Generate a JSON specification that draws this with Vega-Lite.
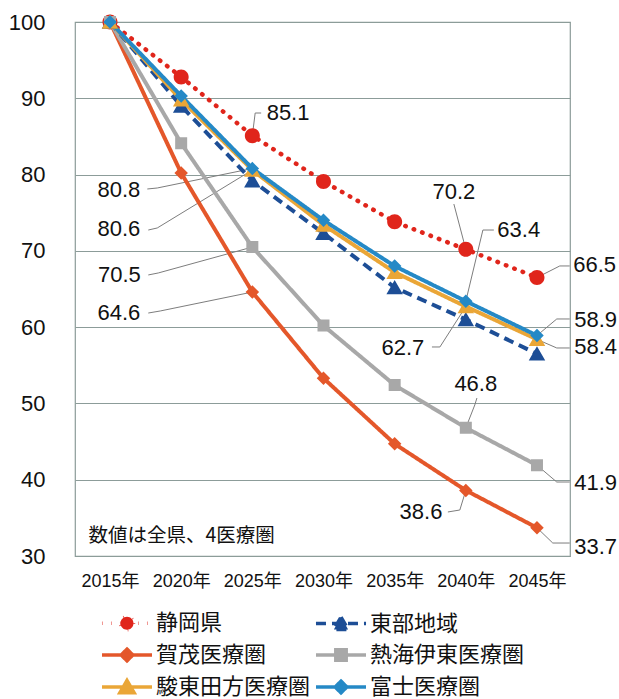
{
  "$schema": "https://vega.github.io/schema/vega-lite/v6.json",
  "width": 495,
  "height": 534,
  "autosize": {"type": "none"},
  "padding": {"left": 75, "top": 22, "right": 49, "bottom": 143},
  "background": "white",
  "config": {
    "view": {"stroke": "#8c9c99", "strokeWidth": 1.2},
    "axisX": {"domain": false, "ticks": false, "grid": false, "title": null, "labelFont": "Liberation Sans, Noto Sans CJK JP", "labelFontSize": 18, "labelColor": "#111111", "labelPadding": 16, "labelFlush": false, "labelOverlap": false},
    "axisY": {"domain": false, "ticks": false, "grid": true, "gridColor": "#8c9c99", "gridWidth": 1, "title": null, "labelFont": "Liberation Sans", "labelFontSize": 22, "labelColor": "#111111", "labelPadding": 30, "labelOverlap": false},
    "legend": {"title": null, "orient": "none", "legendX": 27, "legendY": 590, "columns": 2, "symbolSize": 169, "symbolStrokeWidth": 3.5, "symbolOffset": 14, "labelOffset": 18, "labelFont": "Noto Sans CJK JP", "labelFontSize": 22, "labelColor": "#111111", "labelLimit": 300, "rowPadding": 5, "columnPadding": -3, "padding": 0, "labelBaseline": "middle"}
  },
  "datasets": {
    "series": [
      {"s": "静岡県", "yr": 2015, "v": 100}, {"s": "静岡県", "yr": 2020, "v": 92.8}, {"s": "静岡県", "yr": 2025, "v": 85.1}, {"s": "静岡県", "yr": 2030, "v": 79.1}, {"s": "静岡県", "yr": 2035, "v": 73.8}, {"s": "静岡県", "yr": 2040, "v": 70.2}, {"s": "静岡県", "yr": 2045, "v": 66.5},
      {"s": "賀茂医療圏", "yr": 2015, "v": 100}, {"s": "賀茂医療圏", "yr": 2020, "v": 80.2}, {"s": "賀茂医療圏", "yr": 2025, "v": 64.6}, {"s": "賀茂医療圏", "yr": 2030, "v": 53.3}, {"s": "賀茂医療圏", "yr": 2035, "v": 44.7}, {"s": "賀茂医療圏", "yr": 2040, "v": 38.6}, {"s": "賀茂医療圏", "yr": 2045, "v": 33.7},
      {"s": "熱海伊東医療圏", "yr": 2015, "v": 100}, {"s": "熱海伊東医療圏", "yr": 2020, "v": 84.1}, {"s": "熱海伊東医療圏", "yr": 2025, "v": 70.5}, {"s": "熱海伊東医療圏", "yr": 2030, "v": 60.2}, {"s": "熱海伊東医療圏", "yr": 2035, "v": 52.4}, {"s": "熱海伊東医療圏", "yr": 2040, "v": 46.8}, {"s": "熱海伊東医療圏", "yr": 2045, "v": 41.9},
      {"s": "東部地域", "yr": 2015, "v": 100}, {"s": "東部地域", "yr": 2020, "v": 89.0}, {"s": "東部地域", "yr": 2025, "v": 79.2}, {"s": "東部地域", "yr": 2030, "v": 72.3}, {"s": "東部地域", "yr": 2035, "v": 65.2}, {"s": "東部地域", "yr": 2040, "v": 61.0}, {"s": "東部地域", "yr": 2045, "v": 56.5},
      {"s": "駿東田方医療圏", "yr": 2015, "v": 100}, {"s": "駿東田方医療圏", "yr": 2020, "v": 89.8}, {"s": "駿東田方医療圏", "yr": 2025, "v": 80.6}, {"s": "駿東田方医療圏", "yr": 2030, "v": 73.4}, {"s": "駿東田方医療圏", "yr": 2035, "v": 67.2}, {"s": "駿東田方医療圏", "yr": 2040, "v": 62.7}, {"s": "駿東田方医療圏", "yr": 2045, "v": 58.4},
      {"s": "富士医療圏", "yr": 2015, "v": 100}, {"s": "富士医療圏", "yr": 2020, "v": 90.3}, {"s": "富士医療圏", "yr": 2025, "v": 80.8}, {"s": "富士医療圏", "yr": 2030, "v": 74.0}, {"s": "富士医療圏", "yr": 2035, "v": 68.0}, {"s": "富士医療圏", "yr": 2040, "v": 63.4}, {"s": "富士医療圏", "yr": 2045, "v": 58.9}
    ],
    "labels": [
      {"t": "85.1", "x": 2027.51, "y": 88.07},
      {"t": "80.8", "x": 2015.62, "y": 77.98},
      {"t": "80.6", "x": 2015.62, "y": 72.87},
      {"t": "70.5", "x": 2015.66, "y": 66.84},
      {"t": "64.6", "x": 2015.62, "y": 61.85},
      {"t": "70.2", "x": 2039.16, "y": 77.72},
      {"t": "63.4", "x": 2043.72, "y": 72.73},
      {"t": "66.5", "x": 2049.05, "y": 68.15},
      {"t": "58.9", "x": 2049.12, "y": 60.94},
      {"t": "58.4", "x": 2049.12, "y": 57.40},
      {"t": "62.7", "x": 2035.58, "y": 57.27},
      {"t": "46.8", "x": 2040.70, "y": 52.55},
      {"t": "41.9", "x": 2049.12, "y": 39.57},
      {"t": "38.6", "x": 2036.85, "y": 35.77},
      {"t": "33.7", "x": 2049.12, "y": 31.18}
    ],
    "leaders": [
      {"id": "a", "o": 1, "x": 2025, "y": 85.1}, {"id": "a", "o": 2, "x": 2025.2, "y": 88.07}, {"id": "a", "o": 3, "x": 2025.62, "y": 88.07},
      {"id": "b", "o": 1, "x": 2025, "y": 80.8}, {"id": "b", "o": 2, "x": 2018.32, "y": 78.24}, {"id": "b", "o": 3, "x": 2017.62, "y": 78.11},
      {"id": "c", "o": 1, "x": 2025, "y": 80.6}, {"id": "c", "o": 2, "x": 2018.32, "y": 73.0}, {"id": "c", "o": 3, "x": 2017.69, "y": 72.73},
      {"id": "d", "o": 1, "x": 2025, "y": 70.5}, {"id": "d", "o": 2, "x": 2018.39, "y": 67.1}, {"id": "d", "o": 3, "x": 2017.69, "y": 66.84},
      {"id": "e", "o": 1, "x": 2025, "y": 64.6}, {"id": "e", "o": 2, "x": 2018.53, "y": 62.12}, {"id": "e", "o": 3, "x": 2017.69, "y": 61.85},
      {"id": "f", "o": 1, "x": 2040, "y": 70.2}, {"id": "f", "o": 2, "x": 2039.16, "y": 76.14},
      {"id": "g", "o": 1, "x": 2040, "y": 63.4}, {"id": "g", "o": 2, "x": 2041.2, "y": 72.73}, {"id": "g", "o": 3, "x": 2041.97, "y": 72.73},
      {"id": "h", "o": 1, "x": 2045, "y": 66.5}, {"id": "h", "o": 2, "x": 2046.6, "y": 68.02}, {"id": "h", "o": 3, "x": 2047.3, "y": 68.02},
      {"id": "i", "o": 1, "x": 2045, "y": 58.9}, {"id": "i", "o": 2, "x": 2046.39, "y": 61.07}, {"id": "i", "o": 3, "x": 2047.3, "y": 61.07},
      {"id": "j", "o": 1, "x": 2045, "y": 58.4}, {"id": "j", "o": 2, "x": 2046.39, "y": 57.27}, {"id": "j", "o": 3, "x": 2047.3, "y": 57.27},
      {"id": "k", "o": 1, "x": 2040, "y": 62.7}, {"id": "k", "o": 2, "x": 2038.18, "y": 57.4}, {"id": "k", "o": 3, "x": 2037.62, "y": 57.4},
      {"id": "l", "o": 1, "x": 2040, "y": 46.8}, {"id": "l", "o": 2, "x": 2040.63, "y": 49.8}, {"id": "l", "o": 3, "x": 2040.78, "y": 50.71},
      {"id": "m", "o": 1, "x": 2045, "y": 41.9}, {"id": "m", "o": 2, "x": 2046.39, "y": 39.7}, {"id": "m", "o": 3, "x": 2047.3, "y": 39.7},
      {"id": "n", "o": 1, "x": 2040, "y": 38.6}, {"id": "n", "o": 2, "x": 2039.58, "y": 36.03}, {"id": "n", "o": 3, "x": 2038.74, "y": 35.77},
      {"id": "o", "o": 1, "x": 2045, "y": 33.7}, {"id": "o", "o": 2, "x": 2046.11, "y": 31.7}, {"id": "o", "o": 3, "x": 2047.3, "y": 31.7}
    ]
  },
  "layer": [
    {
      "data": {"name": "leaders"},
      "mark": {"type": "line", "color": "#7d7d7d", "strokeWidth": 1},
      "encoding": {
        "x": {"field": "x", "type": "quantitative", "scale": {"domain": [2012.54, 2047.32], "nice": false, "zero": false}, "axis": {"values": [2015, 2020, 2025, 2030, 2035, 2040, 2045], "labelExpr": "datum.value + '年'"}},
        "y": {"field": "y", "type": "quantitative", "scale": {"domain": [30, 100], "nice": false, "zero": false}, "axis": {"values": [30, 40, 50, 60, 70, 80, 90, 100]}},
        "detail": {"field": "id"},
        "order": {"field": "o"}
      }
    },
    {
      "data": {"name": "series"},
      "transform": [{"filter": "datum.s === '静岡県'"}],
      "mark": {"type": "line", "strokeWidth": 4.5, "strokeCap": "round"},
      "encoding": {
        "x": {"field": "yr", "type": "quantitative"},
        "y": {"field": "v", "type": "quantitative"},
        "stroke": {"field": "s", "type": "nominal", "scale": {"domain": ["静岡県", "賀茂医療圏", "駿東田方医療圏", "東部地域", "熱海伊東医療圏", "富士医療圏"], "range": ["#e0251b", "#e4572a", "#eaa637", "#1d4e96", "#a8a8a8", "#2589c6"]}},
        "strokeDash": {"field": "s", "type": "nominal", "scale": {"domain": ["静岡県", "賀茂医療圏", "駿東田方医療圏", "東部地域", "熱海伊東医療圏", "富士医療圏"], "range": [[0.5, 8.5], [1, 0], [1, 0], [10, 6], [1, 0], [1, 0]]}}
      }
    },
    {
      "data": {"name": "series"},
      "transform": [{"filter": "datum.s !== '静岡県'"}],
      "mark": {"type": "line", "strokeWidth": 4, "strokeJoin": "round"},
      "encoding": {
        "x": {"field": "yr", "type": "quantitative"},
        "y": {"field": "v", "type": "quantitative"},
        "stroke": {"field": "s", "type": "nominal"},
        "strokeDash": {"field": "s", "type": "nominal"}
      }
    },
    {
      "data": {"name": "series"},
      "mark": {"type": "point", "opacity": 1, "size": 225, "strokeOpacity": 0},
      "encoding": {
        "x": {"field": "yr", "type": "quantitative"},
        "y": {"field": "v", "type": "quantitative"},
        "fill": {"field": "s", "type": "nominal", "scale": {"domain": ["静岡県", "賀茂医療圏", "駿東田方医療圏", "東部地域", "熱海伊東医療圏", "富士医療圏"], "range": ["#e0251b", "#e4572a", "#eaa637", "#1d4e96", "#a8a8a8", "#2589c6"]}},
        "stroke": {"field": "s", "type": "nominal"},
        "strokeDash": {"field": "s", "type": "nominal"},
        "shape": {
          "field": "s", "type": "nominal",
          "scale": {"domain": ["静岡県", "賀茂医療圏", "駿東田方医療圏", "東部地域", "熱海伊東医療圏", "富士医療圏"], "range": [
            "M1,0A1,1,0,1,1,-1,0A1,1,0,1,1,1,0ZM-3.85,0H3.85",
            "M0,-0.9L0.9,0L0,0.9L-0.9,0ZM-3.85,0H3.85",
            "M0,-1L1.1,0.9L-1.1,0.9ZM-3.85,0H3.85",
            "M0,-1L1.1,0.9L-1.1,0.9ZM-3.85,0H3.85",
            "M-0.8,-0.8H0.8V0.8H-0.8ZM-3.85,0H3.85",
            "M0,-0.9L0.9,0L0,0.9L-0.9,0ZM-3.85,0H3.85"
          ]},
          "legend": {"encode": {"symbols": {"strokeCap": {"value": "round"}, "strokeWidth": {"value": 3.5}, "strokeOpacity": {"value": 1}}}}
        }
      }
    },
    {
      "data": {"name": "labels"},
      "mark": {"type": "text", "font": "Liberation Sans", "fontSize": 22, "color": "#111111", "align": "center", "baseline": "middle"},
      "encoding": {
        "x": {"field": "x", "type": "quantitative"},
        "y": {"field": "y", "type": "quantitative"},
        "text": {"field": "t"}
      }
    },
    {
      "data": {"values": [{"note": "数値は全県、4医療圏"}]},
      "mark": {"type": "text", "font": "Noto Sans CJK JP", "fontSize": 19.5, "color": "#111111", "align": "left", "baseline": "middle"},
      "encoding": {
        "x": {"datum": 2013.48, "type": "quantitative"},
        "y": {"datum": 32.62, "type": "quantitative"},
        "text": {"field": "note"}
      }
    }
  ]
}
